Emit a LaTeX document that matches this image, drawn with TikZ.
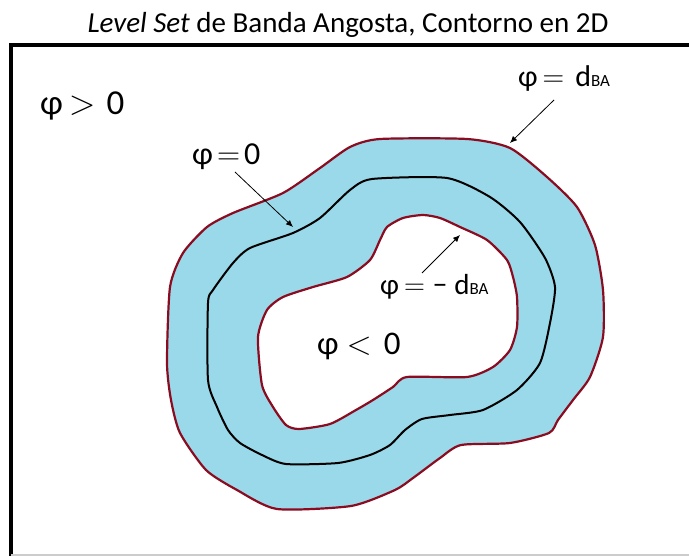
\RequirePackage{fix-cm}
\documentclass[tikz,border=0pt]{standalone}
\usepackage{fontspec}
\setmainfont{Carlito}
\usetikzlibrary{arrows.meta,positioning}
\definecolor{banda}{RGB}{154,217,233}
\definecolor{borde}{RGB}{139,12,32}

\begin{document}
\begin{tikzpicture}[x=1pt,y=-1pt,
                lbl/.style={inner sep=0pt, anchor=base west},
                arr/.style={-{Latex[length=7pt,width=6pt]}, line width=0.8pt},
                contorno/.style={draw=borde, line width=2.2pt},
            ]
            \useasboundingbox (0,0) rectangle (689,556);
            \node[anchor=base, inner sep=0pt, font=\fontsize{29}{29}\selectfont] (titulo) at (348,33) {\textit{Level Set} de Banda Angosta, Contorno en 2D};
            \draw[line width=4pt] (11,556) -- (11,45) -- (689,45);
            \draw[black!20, line width=1.5pt] (11,555) -- (689,555);
            \filldraw[contorno, fill=banda] plot[smooth cycle, tension=0.4] coordinates {
                (380,139) (467,139) (510,148) (547,177) (577,207) (595,245) (603,290) (603,337)
                (590,377) (573,400) (558,420) (549,433) (510,443) (461,445) (440,458) (413,478)
                (395,490) (351,506) (277,509) (237,490) (206,470) (180,433) (171,400) (167,363)
                (170,287) (183,253) (207,227) (233,213) (283,193) (320,168) (350,147)};
            \filldraw[contorno, fill=white] plot[smooth cycle, tension=0.4] coordinates {
                (403,218) (423,215) (440,218) (460,227) (487,240) (507,260) (513,277) (517,297)
                (517,327) (510,350) (493,367) (467,377) (407,377) (393,387) (373,400) (356,410)
                (330,424) (299,429) (286,425) (273,407) (262,385) (258,337) (267,310) (283,297)
                (313,287) (347,277) (370,260) (380,240) (387,227)};
            \draw[line width=2pt] plot[smooth cycle, tension=0.4] coordinates {
                (372,179) (447,178) (490,197) (520,222) (545,258) (555,287) (550,323) (540,363)
                (517,390) (483,410) (450,415) (422,419) (405,430) (390,445) (370,455) (338,463)
                (286,464) (262,455) (240,443) (228,430) (217,407) (208,380) (208,303) (213,290)
                (233,263) (250,248) (293,233) (320,218) (350,190)};
            \node[lbl, font=\fontsize{35}{35}\selectfont] (mayor) at (40,115) {φ\hspace{6pt}$>$\hspace{11pt}0};
            \node[lbl, font=\fontsize{32}{32}\selectfont] (cero) at (192,165) {φ\hspace{4pt}$=$\hspace{4pt}0};
            \node[lbl, font=\fontsize{30}{30}\selectfont] (dpos) at (518,87) {φ\hspace{5pt}$=$\hspace{11pt}d{\fontsize{17}{17}\selectfont BA}};
            \node[lbl, font=\fontsize{29}{29}\selectfont] (dneg) at (380,295) {φ\hspace{5pt}$=$\hspace{8pt}−\hspace{7pt}d{\fontsize{17}{17}\selectfont BA}};
            \node[lbl, font=\fontsize{33}{33}\selectfont] (menor) at (317,355) {φ\hspace{8pt}$<$\hspace{12pt}0};
            \coordinate (c0) at (235,172);
            \coordinate (t0) at (293,227);
            \coordinate (c1) at (554,100);
            \coordinate (t1) at (510,143);
            \coordinate (c2) at (422,273);
            \coordinate (t2) at (460,235);
            \draw[arr] (c0) -- (t0);
            \draw[arr] (c1) -- (t1);
            \draw[arr] (c2) -- (t2);
        \end{tikzpicture}
\end{document}
